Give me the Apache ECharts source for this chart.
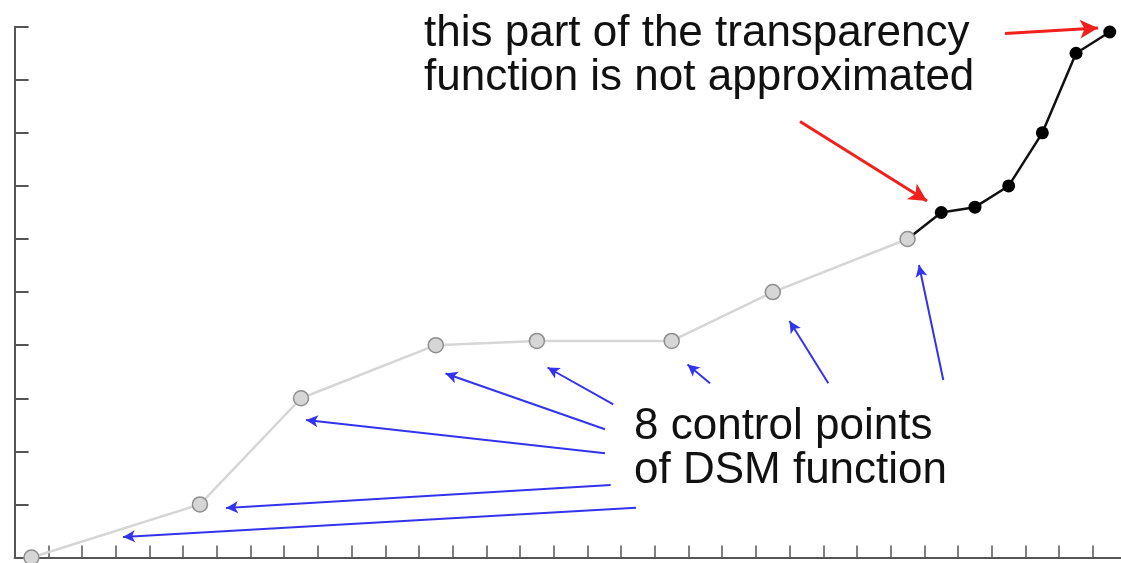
<!DOCTYPE html>
<html>
<head>
<meta charset="UTF-8">
<title>DSM transparency function</title>
<script src="https://cdn.jsdelivr.net/npm/echarts@6/dist/echarts.min.js"></script>
</head>
<body style="margin:0; width:1121px; height:563px; background:#fff;">
<div id="main" style="width:1121px; height:563px;"></div>
<script>
// x positions are category indices (33 slots, ticks between them)
var slotCount = 33;
var slots = [];
for (var i = 0; i < slotCount; i++) slots.push(String(i));

// 8 control points of the DSM approximation (grey)
var dsmX = [0, 5, 8, 12, 15, 19, 22, 26];
var dsmY = [0, 1, 3, 4, 4.08, 4.08, 5, 6];

// exact, not approximated part of the transparency function (black)
var exactX = [26, 27, 28, 29, 30, 31, 32];
var exactY = [6, 6.5, 6.6, 7, 8, 9.5, 9.9];

var topNote = 'this part of the transparency\nfunction is not approximated';
var sideNote = '8 control points\nof DSM function';

function pairs(xs, ys) {
    var out = [];
    for (var i = 0; i < xs.length; i++) out.push([xs[i], ys[i]]);
    return out;
}

var exactData = pairs(exactX, exactY);
exactData[0] = { value: exactData[0], symbol: 'none' };

function arrow(x1, y1, x2, y2) {
    return [{ x: x1, y: y1 }, { x: x2, y: y2 }];
}

var myChart = echarts.init(document.getElementById('main'));

var option = {
    animation: false,
    backgroundColor: '#fff',
    // the last slot runs past the right edge in the original, so don't clamp the grid
    grid: { left: 14.6, top: 26.7, width: 1112, height: 530.8, outerBoundsMode: 'none', containLabel: false },
    xAxis: {
        type: 'category',
        data: slots,
        boundaryGap: true,
        axisLine: { lineStyle: { color: '#555', width: 2 } },
        axisTick: { show: true, inside: true, length: 12, interval: 0, lineStyle: { color: '#555', width: 1.5 } },
        axisLabel: { show: false },
        splitLine: { show: false }
    },
    yAxis: {
        type: 'value',
        min: 0,
        max: 10,
        interval: 1,
        axisLine: { show: true, lineStyle: { color: '#555', width: 2 } },
        axisTick: { show: true, inside: true, length: 14, lineStyle: { color: '#555', width: 2 } },
        axisLabel: { show: false },
        splitLine: { show: false }
    },
    series: [
        {
            name: 'exact',
            type: 'line',
            z: 2,
            data: exactData,
            symbol: 'circle',
            symbolSize: 13,
            itemStyle: { color: '#000' },
            lineStyle: { color: '#111', width: 2.5 },
            emphasis: { disabled: true },
            markLine: {
                silent: true,
                symbol: ['none', 'arrow'],
                symbolSize: [14, 18],
                label: { show: false },
                lineStyle: { color: '#f0201c', width: 3, type: 'solid' },
                data: [
                    arrow(1005, 33.5, 1098, 28),
                    arrow(800, 121.5, 927, 201)
                ]
            }
        },
        {
            name: 'dsm',
            type: 'line',
            z: 3,
            data: pairs(dsmX, dsmY),
            symbol: 'circle',
            symbolSize: 15,
            itemStyle: { color: '#d6d6d6', borderColor: '#8e8e8e', borderWidth: 1.5 },
            lineStyle: { color: '#d6d6d6', width: 2.5 },
            emphasis: { disabled: true },
            markLine: {
                silent: true,
                symbol: ['none', 'arrow'],
                symbolSize: [9, 12],
                label: { show: false },
                lineStyle: { color: '#3333ee', width: 2, type: 'solid' },
                data: [
                    arrow(636, 507.7, 123, 537),
                    arrow(610.7, 485, 226, 508),
                    arrow(605, 453.3, 306, 420),
                    arrow(605, 429.3, 445.5, 373.5),
                    arrow(613.3, 404.3, 547.5, 367.5),
                    arrow(710, 383.3, 687.5, 364.5),
                    arrow(828.3, 383.3, 789.5, 321),
                    arrow(943.3, 380, 919, 265)
                ]
            }
        }
    ],
    graphic: [
        {
            type: 'text',
            left: 424,
            top: 12,
            style: {
                text: topNote,
                font: '44px "Liberation Sans", Arial, sans-serif',
                lineHeight: 44,
                fill: '#111'
            }
        },
        {
            type: 'text',
            left: 634,
            top: 405,
            style: {
                text: sideNote,
                font: '44px "Liberation Sans", Arial, sans-serif',
                lineHeight: 44,
                fill: '#111'
            }
        }
    ]
};

myChart.setOption(option);
</script>
</body>
</html>
